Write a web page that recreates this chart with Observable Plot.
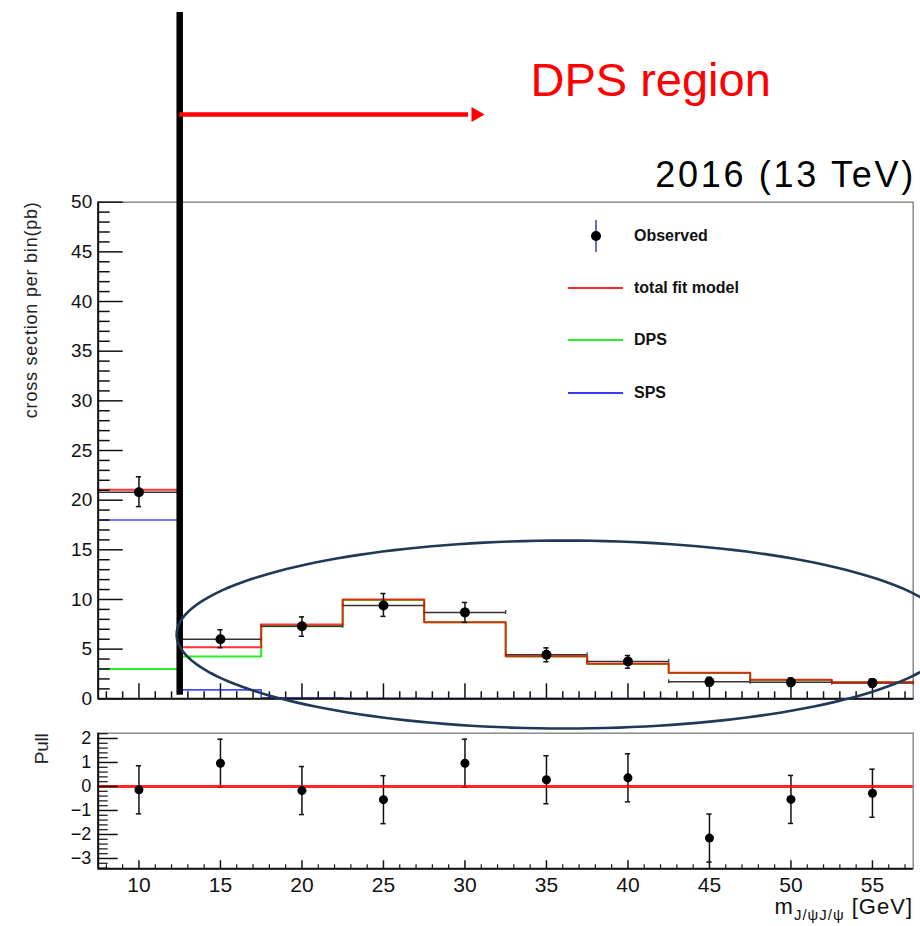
<!DOCTYPE html>
<html>
<head>
<meta charset="utf-8">
<script src="https://cdn.jsdelivr.net/npm/d3@7"></script>
<script src="https://cdn.jsdelivr.net/npm/@observablehq/plot@0.6"></script>
<style>
  body { margin: 0; background: #fff; font-family: "Liberation Sans", Arial, sans-serif; }
  #wrap { position: relative; width: 920px; height: 926px; overflow: hidden; background: #fff; }
  #main, #pull { position: absolute; left: 0; }
  #main { top: 0; }
  #pull { top: 720px; }
  .legtxt { position: absolute; font-weight: bold; font-size: 16px; line-height: 20px; color: #111; white-space: nowrap; }
  .legline { position: absolute; height: 1.6px; width: 55px; }
  #xtitle { position: absolute; right: 7px; top: 899px; font-size: 22px; line-height: 15px; color: #111; letter-spacing: 1px; white-space: nowrap; }
  #xtitle sub { font-size: 15px; vertical-align: -6px; line-height: 0; }
</style>
</head>
<body>
<div id="wrap">
  <div id="main"></div>
  <div id="pull"></div>
  <div id="legend"></div>
  <div id="xtitle">m<sub>J/ψJ/ψ</sub> [GeV]</div>
</div>
<script>
// ---------------- data ----------------
const binCenters = [10, 15, 20, 25, 30, 35, 40, 45, 50, 55];
const binHalfWidth = 2.5;
const observed        = [20.8, 6.0, 7.3, 9.4, 8.7, 4.43, 3.76, 1.72, 1.67, 1.6];
const observedErrUp   = [1.55, 0.95, 0.95, 1.2, 1.0, 0.7, 0.6, 0.45, 0.42, 0.42];
const observedErrDown = [1.45, 0.85, 1.0, 1.1, 1.0, 0.7, 0.68, 0.45, 0.42, 0.42];
const totalFit = [21.05, 5.2, 7.48, 10.0, 7.72, 4.29, 3.52, 2.62, 1.91, 1.67];
const dpsFit   = [3.0, 4.26, 7.3, 9.95, 7.7, 4.27, 3.5, 2.61, 1.9, 1.66];
const spsFit   = [18.0, 0.9, 0.1, 0.05, 0.02, 0.02, 0.02, 0.01, 0.01, 0.01];
const pullValues = [-0.14, 0.97, -0.17, -0.55, 0.97, 0.28, 0.36, -2.15, -0.54, -0.28];
const pullErrors = [1, 1, 1, 1, 1, 1, 1, 1, 1, 1];
const xMajorTicks = [10, 15, 20, 25, 30, 35, 40, 45, 50, 55];
const yMainTicks = [0, 5, 10, 15, 20, 25, 30, 35, 40, 45, 50];
const yPullTicks = [-3, -2, -1, 0, 1, 2];
const legendLabels = ["Observed", "total fit model", "DPS", "SPS"];
const legendColors = ["#6b6bd6", "#ff2a2a", "#2aee2a", "#3a3aff"];
const yTitle = "cross section per bin(pb)";
const pullTitle = "Pull";
const topLabel = "2016 (13 TeV)";
const regionLabel = "DPS region";

// ---------------- layout ----------------
const FONT = "Liberation Sans, Arial, Helvetica, sans-serif";
const W = 920;
const ML = 97.7, MR = 7.3;
const FW = W - ML - MR;
const xDomain = [7.5, 57.5];
const MT = 201.7, HM = 740, MB = HM - 698.3;
const FHm = HM - MT - MB;
const HP = 206, MTP = 12.7, MBP = 57.7;
const FHp = HP - MTP - MBP;

function steps(vals) {
  const pts = binCenters.map((c, i) => ({x: c - binHalfWidth, y: vals[i]}));
  pts.push({x: binCenters[binCenters.length - 1] + binHalfWidth, y: vals[vals.length - 1]});
  return pts;
}
const obs = binCenters.map((c, i) => ({
  c, lo: c - binHalfWidth, hi: c + binHalfWidth,
  v: observed[i], up: observed[i] + observedErrUp[i], dn: observed[i] - observedErrDown[i]
}));
const pulls = binCenters.map((c, i) => ({
  c, v: pullValues[i], up: pullValues[i] + pullErrors[i], dn: pullValues[i] - pullErrors[i]
}));

const minorMainY = d3.range(0, 51, 1).filter(v => v % 5 !== 0);
const minorX = d3.range(8, 58, 1).filter(v => v % 5 !== 0);
const minorPullY = d3.range(-34, 23, 2).map(v => v / 10).filter(v => !Number.isInteger(v));

// ellipse annotation (data units)
const ell = {cx: 36.11, cy: 6.47, rx: 23.8, ry: 9.46};
const ellipsePts = d3.range(0, 361, 2).map(a => ({
  x: ell.cx + ell.rx * Math.cos(a * Math.PI / 180),
  y: ell.cy + ell.ry * Math.sin(a * Math.PI / 180)
}));

const capW = 0.16;

const main = Plot.plot({
  width: W, height: HM,
  marginLeft: ML, marginRight: MR, marginTop: MT, marginBottom: MB,
  x: {domain: xDomain, axis: null},
  y: {domain: [0, 50]},
  style: {background: "transparent", fontFamily: FONT, overflow: "visible"},
  marks: [
    Plot.frame({stroke: "#8a8a8a", strokeWidth: 1.5}),
    Plot.line(steps(dpsFit), {x: "x", y: "y", curve: "step-after", stroke: "#2aee2a", strokeWidth: 2}),
    Plot.line(steps(spsFit), {x: "x", y: "y", curve: "step-after", stroke: "#2a2aff", strokeWidth: 1.6, strokeOpacity: 0.85}),
    Plot.ruleY(obs, {y: "v", x1: "lo", x2: "hi", stroke: "#333", strokeWidth: 1.5}),
    Plot.ruleX(obs, {x: "lo", y1: d => d.v - 0.2, y2: d => d.v + 0.2, stroke: "#333", strokeWidth: 1.2}),
    Plot.ruleX(obs, {x: "hi", y1: d => d.v - 0.2, y2: d => d.v + 0.2, stroke: "#333", strokeWidth: 1.2}),
    Plot.line(steps(totalFit), {x: "x", y: "y", curve: "step-after", stroke: "#ff0000", strokeWidth: 2, strokeOpacity: 0.8}),
    Plot.ruleX(obs, {x: "c", y1: "dn", y2: "up", stroke: "#111", strokeWidth: 1.5}),
    Plot.ruleY(obs, {y: "up", x1: d => d.c - capW, x2: d => d.c + capW, stroke: "#111", strokeWidth: 1.5}),
    Plot.ruleY(obs, {y: "dn", x1: d => d.c - capW, x2: d => d.c + capW, stroke: "#111", strokeWidth: 1.5}),
    Plot.dot(obs, {x: "c", y: "v", r: 5, fill: "#000"}),
    // inward ticks
    Plot.tickY(yMainTicks, {y: d => d, insetRight: FW - 25, stroke: "#111", strokeWidth: 1.5}),
    Plot.tickY(minorMainY, {y: d => d, insetRight: FW - 12, stroke: "#111", strokeWidth: 1.5}),
    Plot.tickX(xMajorTicks, {x: d => d, insetTop: FHm - 15, stroke: "#111", strokeWidth: 1.5}),
    Plot.tickX(minorX, {x: d => d, insetTop: FHm - 7, stroke: "#111", strokeWidth: 1.5}),
    Plot.ruleX([xDomain[0]], {stroke: "#111", strokeWidth: 2}),
    Plot.ruleY([0], {stroke: "#111", strokeWidth: 2}),
    Plot.axisY(yMainTicks, {tickSize: 0, tickPadding: 6, fontSize: 19, fill: "#111", label: null}),
    Plot.text([yTitle], {text: d => d, frameAnchor: "top-left", dx: -73.5, rotate: -90, textAnchor: "end", fontSize: 18, fill: "#222"}),
    // annotations
    Plot.ruleX([12.5], {y1: 0.35, y2: 69.1, stroke: "#000", strokeWidth: 6.5}),
    Plot.ruleY([58.83], {x1: 12.5, x2: 30.22, stroke: "#ff0000", strokeWidth: 4.5}),
    Plot.dot([0], {x: 30.67, y: 58.83, symbol: "triangle", rotate: 90, r: 5.6, fill: "#ff0000", stroke: "none"}),
    Plot.text([regionLabel], {text: d => d, x: 34.02, y: 62.25, textAnchor: "start", fontSize: 47, fill: "#ff0000"}),
    Plot.text([topLabel], {text: d => d, x: xDomain[1], y: 52.67, textAnchor: "end", fontSize: 36, fill: "#000"}),
    Plot.line(ellipsePts, {x: "x", y: "y", stroke: "#1f3a56", strokeWidth: 2.6})
  ]
});

const pull = Plot.plot({
  width: W, height: HP,
  marginLeft: ML, marginRight: MR, marginTop: MTP, marginBottom: MBP,
  x: {domain: xDomain},
  y: {domain: [-3.43, 2.22]},
  style: {background: "transparent", fontFamily: FONT, overflow: "visible"},
  marks: [
    Plot.frame({stroke: "#8a8a8a", strokeWidth: 1.5}),
    Plot.ruleX(pulls, {x: "c", y1: "dn", y2: "up", stroke: "#111", strokeWidth: 1.5}),
    Plot.ruleY(pulls, {y: "up", x1: d => d.c - capW, x2: d => d.c + capW, stroke: "#111", strokeWidth: 1.5}),
    Plot.ruleY(pulls, {y: "dn", x1: d => d.c - capW, x2: d => d.c + capW, stroke: "#111", strokeWidth: 1.5}),
    Plot.ruleY([0], {stroke: "#ff0000", strokeWidth: 3, strokeOpacity: 0.85}),
    Plot.dot(pulls, {x: "c", y: "v", r: 4.5, fill: "#000"}),
    Plot.tickY(yPullTicks, {y: d => d, insetRight: FW - 20, stroke: "#111", strokeWidth: 1.5}),
    Plot.tickY(minorPullY, {y: d => d, insetRight: FW - 10, stroke: "#111", strokeWidth: 1.2}),
    Plot.tickX(xMajorTicks, {x: d => d, insetTop: FHp - 8, stroke: "#111", strokeWidth: 1.5}),
    Plot.tickX(minorX, {x: d => d, insetTop: FHp - 4, stroke: "#111", strokeWidth: 1.2}),
    Plot.ruleX([xDomain[0]], {stroke: "#111", strokeWidth: 2}),
    Plot.ruleY([-3.43], {stroke: "#111", strokeWidth: 2}),
    Plot.axisY(yPullTicks, {tickSize: 0, tickPadding: 7, fontSize: 18, fill: "#111", label: null}),
    Plot.axisX(xMajorTicks, {tickSize: 0, tickPadding: 8, fontSize: 21, fill: "#111", label: null}),
    Plot.text([pullTitle], {text: d => d, frameAnchor: "top-left", dx: -63.8, rotate: -90, textAnchor: "end", fontSize: 19, fill: "#222"})
  ]
});

document.getElementById("main").appendChild(main);
document.getElementById("pull").appendChild(pull);

// stretch a few texts to the reference widths
function fitText(svg, str, len) {
  d3.select(svg).selectAll("text").each(function () {
    if (this.textContent === str) {
      this.setAttribute("textLength", len);
      this.setAttribute("lengthAdjust", "spacing");
    }
  });
}
fitText(main, topLabel, 258);
fitText(main, yTitle, 216);
fitText(pull, pullTitle, 31);

// legend (HTML overlay)
const leg = document.getElementById("legend");
const legRowY = [235.5, 288, 340, 393];
legendLabels.forEach((lab, i) => {
  const y = legRowY[i];
  if (i === 0) {
    const bar = document.createElement("div");
    bar.style.cssText = `position:absolute;left:594.5px;top:${y - 16}px;width:2.2px;height:32px;background:${legendColors[0]}`;
    leg.appendChild(bar);
    const dot = document.createElement("div");
    dot.style.cssText = `position:absolute;left:590.5px;top:${y - 5}px;width:10px;height:10px;border-radius:50%;background:#000`;
    leg.appendChild(dot);
  } else {
    const ln = document.createElement("div");
    ln.className = "legline";
    ln.style.cssText = `left:568px;top:${y - 0.8}px;background:${legendColors[i]}`;
    leg.appendChild(ln);
  }
  const t = document.createElement("div");
  t.className = "legtxt";
  t.textContent = lab;
  t.style.left = "634px";
  t.style.top = (y - 10) + "px";
  leg.appendChild(t);
});
</script>
</body>
</html>
